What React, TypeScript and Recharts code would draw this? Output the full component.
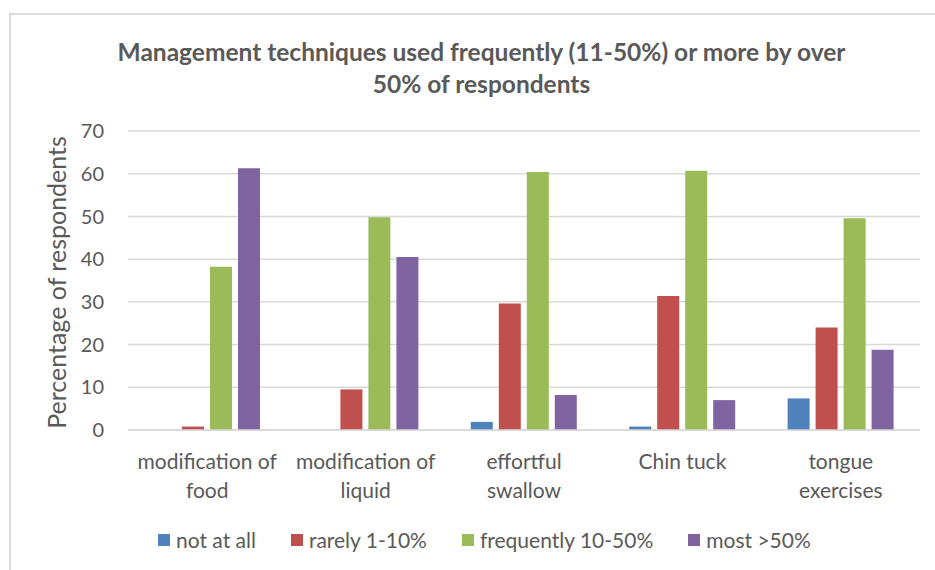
import React from "react";
import { BarChart, Bar, XAxis, YAxis, CartesianGrid, Legend } from "recharts";

const categories = [
  "modification of\nfood",
  "modification of\nliquid",
  "effortful\nswallow",
  "Chin tuck",
  "tongue\nexercises",
];
const notAtAll = [0, 0, 1.9, 0.8, 7.4];
const rarely = [0.8, 9.5, 29.6, 31.4, 24.0];
const frequently = [38.2, 49.8, 60.4, 60.7, 49.6];
const most = [61.3, 40.5, 8.2, 7.0, 18.8];
const yTicks = [0, 10, 20, 30, 40, 50, 60, 70];

const seriesNames = ["not at all", "rarely 1-10%", "frequently 10-50%", "most >50%"];
const colors = ["#4F81BD", "#C0504D", "#9BBB59", "#8064A2"];

const data = categories.map((c, i) => ({
  name: c,
  a: notAtAll[i],
  b: rarely[i],
  c: frequently[i],
  d: most[i],
}));

const FONT = "Lato, 'Open Sans', sans-serif";
const TXT = "#595959";

const XTick = (props: any) => {
  const { x, y, payload } = props;
  const lines = String(payload.value).split("\n");
  return (
    <g transform={`translate(${x},${y})`}>
      {lines.map((l: string, i: number) => (
        <text key={i} x={0} y={0} dy={31 + i * 29} textAnchor="middle" fill={TXT} fontSize={21} fontFamily={FONT}>
          {l}
        </text>
      ))}
    </g>
  );
};

const LegendContent = (props: any) => {
  const items = seriesNames.map((n, i) => ({ n, c: colors[i] }));
  return (
    <div style={{ display: "flex", paddingLeft: 158, fontFamily: FONT, fontSize: 21, color: TXT, lineHeight: "24px" }}>
      {items.map((it) => (
        <div key={it.n} style={{ display: "flex", alignItems: "center", marginRight: 35 }}>
          <span style={{ width: 12, height: 12, background: it.c, display: "inline-block", marginRight: 6 }} />
          <span>{it.n}</span>
        </div>
      ))}
    </div>
  );
};

export default function App() {
  return (
    <div style={{ position: "absolute", left: 0, top: 0, width: 935, height: 570, background: "#fff", overflow: "hidden" }}>
      <div style={{ position: "absolute", left: 9, top: 13, width: 940, height: 570, borderLeft: "2px solid #d9d9d9", borderTop: "2px solid #d9d9d9" }} />
      <div
        style={{
          position: "absolute",
          left: 0,
          top: 36,
          width: 963,
          textAlign: "center",
          fontFamily: FONT,
          fontWeight: 700,
          fontSize: 24.5,
          lineHeight: "32px",
          color: TXT,
        }}
      >
        Management techniques used frequently (11-50%) or more by over
        <br />
        50% of respondents
      </div>
      <BarChart
        width={935}
        height={570}
        data={data}
        margin={{ top: 131, right: 15, bottom: 36, left: 0 }}
        barGap={6}
        barCategoryGap={26}
        style={{ position: "absolute", left: 0, top: 0 }}
      >
        <CartesianGrid vertical={false} stroke="#d9d9d9" strokeWidth={1.5} />
        <XAxis
          dataKey="name"
          tick={<XTick />}
          tickLine={false}
          axisLine={{ stroke: "#d9d9d9", strokeWidth: 1.5 }}
          interval={0}
          height={80}
        />
        <YAxis
          width={128}
          domain={[0, 70]}
          ticks={yTicks}
          tickLine={false}
          axisLine={false}
          tick={{ fill: TXT, fontSize: 20, fontFamily: FONT }}
          tickMargin={18}
          label={{
            value: "Percentage of respondents",
            angle: -90,
            position: "insideLeft",
            dx: 52,
            dy: 2,
            style: { fill: TXT, fontSize: 25, fontFamily: FONT, textAnchor: "middle" },
          }}
        />
        <Legend content={<LegendContent />} wrapperStyle={{ position: "absolute", top: 528, left: 0, width: 935 }} />
        <Bar dataKey="a" name={seriesNames[0]} fill={colors[0]} isAnimationActive={false} />
        <Bar dataKey="b" name={seriesNames[1]} fill={colors[1]} isAnimationActive={false} />
        <Bar dataKey="c" name={seriesNames[2]} fill={colors[2]} isAnimationActive={false} />
        <Bar dataKey="d" name={seriesNames[3]} fill={colors[3]} isAnimationActive={false} />
      </BarChart>
    </div>
  );
}
